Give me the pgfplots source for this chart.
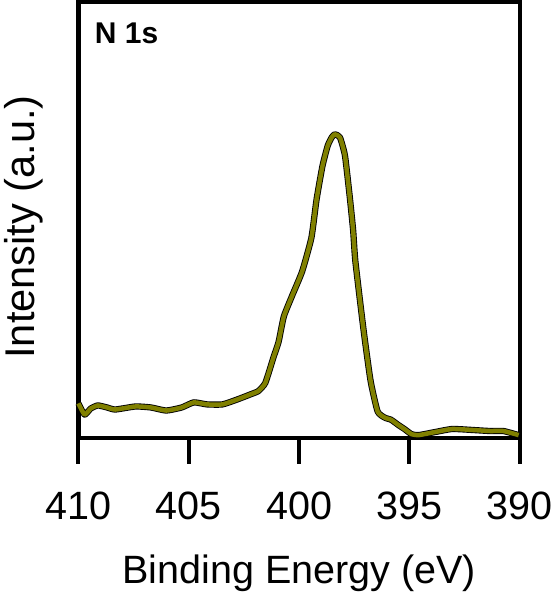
\documentclass[border=0pt]{standalone}
\usepackage{fontspec}
\setmainfont{Liberation Sans}
\usepackage{pgfplots}
\pgfplotsset{compat=1.18}
\definecolor{xps-olive}{HTML}{808000}

\pgfplotstableread{
be     cps
410.00 34
409.72 23
409.44 29
409.12 32
408.70 30
408.33 28
407.41 31
406.71 30
406.02 27
405.32 30
404.77 35
404.17 33
403.47 33
402.78 38
402.18 43
401.85 46
401.53 54
401.16 79
400.93 94
400.69 119
400.32 139
399.86 163
399.44 196
399.21 233
398.94 266
398.70 286
398.52 294
398.38 297
398.15 294
397.92 276
397.69 233
397.55 203
397.45 173
397.08 106
396.76 56
396.44 26
396.11 20
395.83 18
395.51 13
395.23 9
394.91 4
394.58 3
393.84 6
393.06 9
392.13 8
391.34 7
390.74 7
390.05 3
}\nonedata

% tick marks below the frame (drawn as combs from y=0)
\pgfplotstableread{
be   tk
390  -25
395  -25
400  -25
405  -25
410  -25
}\tickdata

\begin{document}
\begin{tikzpicture}
\begin{axis}[
    scale only axis,
    width=324pt, height=320pt,
    xmin=390, xmax=410, ymin=0, ymax=426,
    x dir=reverse,
    xtick={390,395,...,410},
    xticklabels={390,395,400,405,410},
    ytick=\empty,
    major tick length=0pt,
    xtick style={draw=none},
    line width=3.3pt,
    xticklabel style={font=\fontsize{29}{34}\selectfont, anchor=center, yshift=-49.5pt},
    xlabel={Binding Energy (eV)},
    ylabel={Intensity (a.u.)},
    xlabel style={font=\fontsize{29}{34}\selectfont, at={(rel axis cs:0.5,0)}, anchor=center, yshift=-99pt},
    ylabel style={font=\fontsize{30.5}{36}\selectfont, at={(rel axis cs:0,0.5)}, anchor=center, xshift=-5pt, yshift=40pt},
    clip=false,
]
\addplot[ycomb, black, line width=3pt] table[x=be, y=tk] {\tickdata};
\addplot[black, line width=4.6pt, line join=round, smooth, tension=0.3] table[x=be, y=cps] {\nonedata};
\addplot[xps-olive, line width=3.3pt, line join=round, smooth, tension=0.3] table[x=be, y=cps] {\nonedata};
\node[anchor=north west, font=\bfseries\fontsize{22}{26}\selectfont, inner sep=0pt]
    at (rel axis cs:0,1) [xshift=10.5pt, yshift=-13.5pt] {N 1s};
\end{axis}
\end{tikzpicture}
\end{document}
